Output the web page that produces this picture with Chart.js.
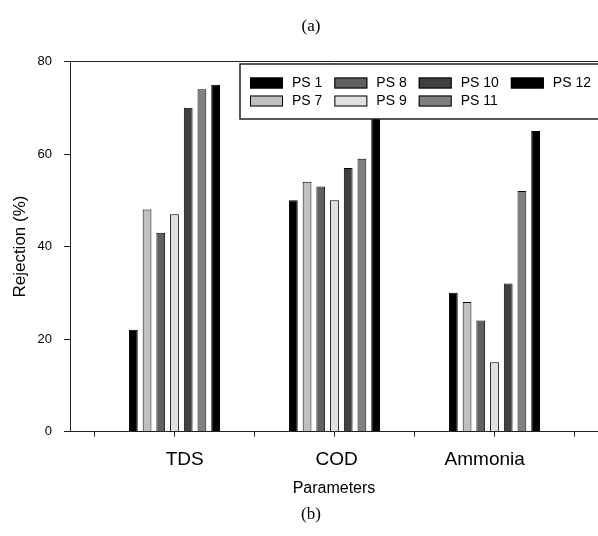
<!DOCTYPE html>
<html><head><meta charset="utf-8">
<script src="https://cdn.jsdelivr.net/npm/chart.js@4.4.1/dist/chart.umd.min.js"></script>
<style>html,body{margin:0;padding:0;background:#fff;overflow:hidden}#wrap{width:598px;height:536px;position:relative}</style>
</head><body><div id="wrap"><canvas id="c" width="598" height="536"></canvas></div>
<script>
// ---- data ----
const categories = ['TDS', 'COD', 'Ammonia'];
const seriesNames = ['PS 1', 'PS 7', 'PS 8', 'PS 9', 'PS 10', 'PS 11', 'PS 12'];
const ps1  = [22, 50, 30];
const ps7  = [48, 54, 28];
const ps8  = [43, 53, 24];
const ps9  = [47, 50, 15];
const ps10 = [70, 57, 32];
const ps11 = [74, 59, 52];
const ps12 = [75, 78, 65];
const yTicks = [0, 20, 40, 60, 80];
const seriesValues = [ps1, ps7, ps8, ps9, ps10, ps11, ps12];

// ---- style ----
const fills = ['#000000', '#c0c0c0', '#606060', '#e0e0e0', '#404040', '#808080', '#000000'];
const X_MIN = 0.347, X_MAX = 3.647;
const labelShift = [0.064, 0.013, -0.061];
const axisColor = '#222';

Chart.defaults.font.family = '"Liberation Sans", Arial, sans-serif';
Chart.defaults.color = '#000';

const datasets = seriesValues.map((vals, k) => ({
  label: seriesNames[k],
  data: vals.map((v, i) => ({ x: i + 1, y: v })),
  backgroundColor: fills[k],
  borderColor: '#000',
  borderWidth: 1,
  categoryPercentage: 1.2,
  barPercentage: 0.64,
  xAxisID: 'x',
  yAxisID: 'y'
}));

const boxLegend = {
  id: 'boxLegend',
  afterDatasetsDraw(chart) {
    const ctx = chart.ctx, ca = chart.chartArea;
    const L = ca.left + 170, T = ca.top + 2.5, H = 55;
    ctx.save();
    ctx.fillStyle = '#fff';
    ctx.fillRect(L, T, chart.width - L + 20, H);
    ctx.strokeStyle = axisColor; ctx.lineWidth = 1.5;
    ctx.strokeRect(L, T, chart.width - L + 20, H);
    ctx.font = '14px "Liberation Sans", Arial, sans-serif';
    ctx.textBaseline = 'middle';
    ctx.textAlign = 'left';
    const sw = 33, sh = 11, gap = 9, colGap = 12;
    const rowY = [T + 19, T + 37];
    let x = L + 10;
    const ds = chart.data.datasets;
    for (let c = 0; c * 2 < ds.length; c++) {
      let maxW = 0;
      for (let r = 0; r < 2; r++) {
        const i = c * 2 + r;
        if (i >= ds.length) break;
        const y = rowY[r];
        ctx.fillStyle = ds[i].backgroundColor;
        ctx.fillRect(x, y - sh / 2, sw, sh);
        ctx.strokeStyle = '#000'; ctx.lineWidth = 1;
        ctx.strokeRect(x + 0.5, y - sh / 2 + 0.5, sw - 1, sh - 1);
        ctx.fillStyle = '#000';
        ctx.fillText(ds[i].label, x + sw + gap, y + 0.5);
        maxW = Math.max(maxW, ctx.measureText(ds[i].label).width);
      }
      x += sw + gap + maxW + colGap;
    }
    ctx.restore();
  }
};

new Chart(document.getElementById('c'), {
  type: 'bar',
  data: { datasets },
  plugins: [boxLegend],
  options: {
    responsive: false,
    animation: false,
    devicePixelRatio: 1,
    layout: { padding: { left: 24, right: 0, top: 0, bottom: 0 } },
    plugins: {
      legend: { display: false },
      tooltip: { enabled: false },
      title: {
        display: true, text: '(a)', color: '#000',
        font: { family: '"Liberation Serif", "Times New Roman", serif', size: 17, weight: 'normal' },
        padding: { top: 16.5, bottom: 24.6 }
      },
      subtitle: {
        display: true, text: '(b)', position: 'bottom', color: '#000',
        font: { family: '"Liberation Serif", "Times New Roman", serif', size: 17, weight: 'normal' },
        padding: { top: 6.2, bottom: 10.8 }
      }
    },
    scales: {
      x: {
        type: 'linear', position: 'bottom', min: X_MIN, max: X_MAX, weight: 0, offset: false,
        afterBuildTicks: s => { s.ticks = [0.5, 1, 1.5, 2, 2.5, 3, 3.5].map(v => ({ value: v })); },
        ticks: { display: false },
        grid: { display: true, offset: false, drawOnChartArea: false, drawTicks: true, tickLength: 5, color: axisColor, lineWidth: 1 },
        border: { display: true, color: axisColor, width: 1 }
      },
      xl: {
        type: 'linear', position: 'bottom', min: X_MIN, max: X_MAX, weight: 1, offset: false,
        afterBuildTicks: s => { s.ticks = categories.map((c, i) => ({ value: i + 1 + labelShift[i] })); },
        ticks: {
          autoSkip: false, maxRotation: 0, minRotation: 0, padding: 12.1,
          font: { size: 19 }, color: '#000',
          callback: (v, i) => categories[i]
        },
        grid: { display: false, offset: false, drawTicks: false },
        border: { display: false },
        title: { display: true, text: 'Parameters', color: '#000', font: { size: 16 }, padding: { top: -4.2, bottom: 0 } }
      },
      xTop: {
        type: 'linear', position: 'top', min: X_MIN, max: X_MAX, display: true, offset: false,
        ticks: { display: false },
        grid: { display: false, offset: false, drawTicks: false },
        border: { display: true, color: axisColor, width: 1 }
      },
      y: {
        type: 'linear', position: 'left', min: 0, max: 80,
        afterBuildTicks: s => { s.ticks = yTicks.map(v => ({ value: v })); },
        afterFit: s => { s.width = 46; },
        ticks: { font: { size: 13 }, color: '#000', padding: 12 },
        grid: { drawOnChartArea: false, drawTicks: true, tickLength: 6, color: axisColor },
        border: { display: true, color: axisColor, width: 1 },
        title: { display: true, text: 'Rejection (%)', color: '#000', font: { size: 17 }, padding: { top: -14, bottom: 0 } }
      }
    }
  }
});
</script>
</body></html>
